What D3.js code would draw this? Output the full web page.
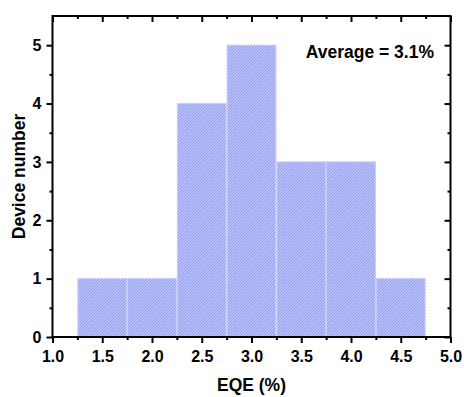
<!DOCTYPE html>
<html lang="en">
<head>
<meta charset="UTF-8">
<title>EQE histogram</title>
<script src="https://cdn.jsdelivr.net/npm/d3@7/dist/d3.min.js"></script>
<style>
    body { margin: 0; background: #fff; }
    text { font-family: "Liberation Sans", Arial, sans-serif; font-weight: bold; fill: #000; }
</style>
</head>
<body>
<svg id="svg" width="464" height="397"></svg>
<script>
    // histogram bins (EQE %) and counts
    var binStart = [1.25, 1.75, 2.25, 2.75, 3.25, 3.75, 4.25];
    var binEnd = [1.75, 2.25, 2.75, 3.25, 3.75, 4.25, 4.75];
    var counts = [1, 1, 4, 5, 3, 3, 1];
    var xTicks = [1.0, 1.5, 2.0, 2.5, 3.0, 3.5, 4.0, 4.5, 5.0];
    var yTicks = [0, 1, 2, 3, 4, 5];
    var note = "Average = 3.1%";

    var svg = d3.select("#svg");
    var plotL = 52.5, plotR = 450.5, plotT = 16, plotB = 337;

    var x = d3.scaleLinear().domain([1, 5]).range([plotL, plotR]);
    var y = d3.scaleLinear().domain([0, 5.5]).range([plotB, plotT]);

    var defs = svg.append("defs");
    var pat = defs.append("pattern")
        .attr("id", "hatch")
        .attr("patternUnits", "userSpaceOnUse")
        .attr("width", 3).attr("height", 3);
    pat.append("rect").attr("width", 3).attr("height", 3).attr("fill", "#dfe2fc");
    pat.append("path")
        .attr("d", "M-1,1 L1,-1 M0,3 L3,0 M2,4 L4,2")
        .attr("stroke", "#8f9af4")
        .attr("stroke-width", 1.3);

    var bins = counts.map(function (c, i) {
        return {x0: binStart[i], x1: binEnd[i], n: c};
    });

    svg.append("g").selectAll("rect")
        .data(bins)
        .enter().append("rect")
        .attr("x", function (d) { return x(d.x0) + 0.5; })
        .attr("y", function (d) { return y(d.n); })
        .attr("width", function (d) { return x(d.x1) - x(d.x0) - 1; })
        .attr("height", function (d) { return y(0) - y(d.n); })
        .attr("fill", "url(#hatch)")
        .attr("stroke", "#c5cafa")
        .attr("stroke-width", 1);

    // axes: major + minor ticks, mirrored inward on top/right
    var xMinor = [1.25, 1.75, 2.25, 2.75, 3.25, 3.75, 4.25, 4.75];
    var yMinor = [0.5, 1.5, 2.5, 3.5, 4.5];

    function styleAxis(g) {
        g.select(".domain").remove();
        g.selectAll(".tick line").attr("stroke", "#000").attr("stroke-width", 2);
    }

    svg.append("g").attr("transform", "translate(0," + plotB + ")")
        .call(d3.axisBottom(x).tickValues(xTicks).tickFormat(d3.format(".1f")).tickSize(6).tickPadding(8))
        .call(styleAxis)
        .selectAll("text").style("font-size", "16px");
    svg.append("g").attr("transform", "translate(0," + plotB + ")")
        .call(d3.axisBottom(x).tickValues(xMinor).tickFormat("").tickSize(3))
        .call(styleAxis);
    svg.append("g").attr("transform", "translate(0," + plotT + ")")
        .call(d3.axisBottom(x).tickValues(xTicks).tickFormat("").tickSize(6))
        .call(styleAxis);
    svg.append("g").attr("transform", "translate(0," + plotT + ")")
        .call(d3.axisBottom(x).tickValues(xMinor).tickFormat("").tickSize(3))
        .call(styleAxis);

    svg.append("g").attr("transform", "translate(" + plotL + ",0)")
        .call(d3.axisLeft(y).tickValues(yTicks).tickFormat(d3.format("d")).tickSize(6).tickPadding(5))
        .call(styleAxis)
        .selectAll("text").style("font-size", "16px");
    svg.append("g").attr("transform", "translate(" + plotL + ",0)")
        .call(d3.axisLeft(y).tickValues(yMinor).tickFormat("").tickSize(3))
        .call(styleAxis);
    svg.append("g").attr("transform", "translate(" + plotR + ",0)")
        .call(d3.axisLeft(y).tickValues(yTicks).tickFormat("").tickSize(6))
        .call(styleAxis);
    svg.append("g").attr("transform", "translate(" + plotR + ",0)")
        .call(d3.axisLeft(y).tickValues(yMinor).tickFormat("").tickSize(3))
        .call(styleAxis);

    svg.append("rect")
        .attr("x", plotL).attr("y", plotT)
        .attr("width", plotR - plotL).attr("height", plotB - plotT)
        .attr("fill", "none").attr("stroke", "#000").attr("stroke-width", 2);

    svg.append("text")
        .attr("x", 434).attr("y", 58)
        .attr("text-anchor", "end")
        .style("font-size", "17.5px")
        .text(note);

    svg.append("text")
        .attr("x", (plotL + plotR) / 2).attr("y", 391)
        .attr("text-anchor", "middle")
        .style("font-size", "17.5px")
        .text("EQE (%)");

    svg.append("text")
        .attr("transform", "translate(25," + (plotT + plotB) / 2 + ") rotate(-90)")
        .attr("text-anchor", "middle")
        .style("font-size", "17.5px")
        .text("Device number");
</script>
</body>
</html>
